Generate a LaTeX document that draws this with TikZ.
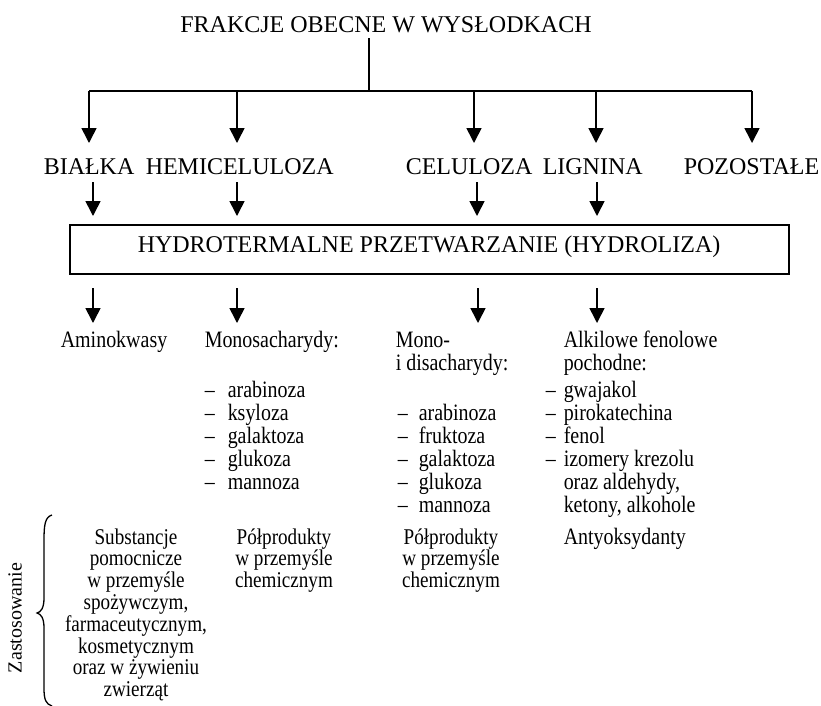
\documentclass[tikz,border=0pt]{standalone}
\usepackage{fontspec}
\setmainfont{Liberation Serif}
\newfontfamily\condfont[FakeStretch=0.85]{Liberation Serif}
\usetikzlibrary{arrows.meta}
\begin{document}
\begin{tikzpicture}[x=1pt,y=-1pt,line width=1.5pt,
  arr/.style={-{Triangle[length=15pt,width=15pt]},line width=1.6pt},
  big/.style={font=\fontsize{24}{28}\selectfont,inner sep=0pt},
  small/.style={font=\condfont\fontsize{23.5}{26}\selectfont,inner sep=0pt,text height=14pt,text depth=5pt},
  app/.style={font=\condfont\fontsize{22.5}{26}\selectfont,inner sep=0pt,text height=14pt,text depth=5pt,anchor=base},
  dsh/.style={small,anchor=base west}]
\useasboundingbox (0,0) rectangle (821,705);
% title and branching
\node[big,anchor=base] (title) at (386,32) {FRAKCJE OBECNE W WYSŁODKACH};
\coordinate (t0) at (369,38);
\coordinate (j0) at (369,91);
\coordinate (jl) at (89,91);
\coordinate (jr) at (752,91);
\draw (t0) -- (j0);
\draw (jl) -- (jr);
% labels
\node[big,anchor=base west] (bia) at (43,174) {BIAŁKA};
\node[big,anchor=base west] (hem) at (145,174) {HEMICELULOZA};
\node[big,anchor=base west] (cel) at (405,174) {CELULOZA};
\node[big,anchor=base west] (lig) at (542,174) {LIGNINA};
\node[big,anchor=base west] (poz) at (683,174) {POZOSTAŁE};
\foreach \n/\x in {a/89,b/237,c/474,d/596,e/752}{
  \coordinate (u\n) at (\x,91);
  \coordinate (v\n) at (\x,143);
  \draw[arr] (u\n) -- (v\n);
}
\foreach \n/\x in {a/93,b/237,c/477,d/597}{
  \coordinate (p\n) at (\x,182);
  \coordinate (q\n) at (\x,216);
  \draw[arr] (p\n) -- (q\n);
}
% box
\node[draw,line width=1.6pt,minimum width=719pt,minimum height=49pt,anchor=north west,inner sep=0pt] (box) at (69,224) {};
\node[big,anchor=base west] (boxt) at (137,252) {HYDROTERMALNE PRZETWARZANIE (HYDROLIZA)};
\foreach \n/\x in {a/93,b/237,c/478,d/597}{
  \coordinate (r\n) at (\x,288);
  \coordinate (s\n) at (\x,323);
  \draw[arr] (r\n) -- (s\n);
}
% products
\node[small,anchor=base west] (amino) at (60,347) {Aminokwasy};
\node[small,anchor=base west] (mono) at (204,347) {Monosacharydy:};
\foreach \t [count=\i] in {arabinoza,ksyloza,galaktoza,glukoza,mannoza}{
  \node[dsh] (ma\i) at (204,{397+23*(\i-1)}) {–};
  \node[dsh] (mt\i) at (227,{397+23*(\i-1)}) {\t};
}
\node[small,anchor=base west] (di1) at (395,347) {Mono-};
\node[small,anchor=base west] (di2) at (395,370) {i disacharydy:};
\foreach \t [count=\i] in {arabinoza,fruktoza,galaktoza,glukoza,mannoza}{
  \node[dsh] (da\i) at (397,{420+23*(\i-1)}) {–};
  \node[dsh] (dt\i) at (418,{420+23*(\i-1)}) {\t};
}
\node[small,anchor=base west] (al1) at (563,347) {Alkilowe fenolowe};
\node[small,anchor=base west] (al2) at (563,370) {pochodne:};
\foreach \t [count=\i] in {gwajakol,pirokatechina,fenol,izomery krezolu}{
  \node[dsh] (la\i) at (545,{397+23*(\i-1)}) {–};
  \node[dsh] (lt\i) at (563,{397+23*(\i-1)}) {\t};
}
\node[small,anchor=base west] (al3) at (563,489) {oraz aldehydy,};
\node[small,anchor=base west] (al4) at (563,512) {ketony, alkohole};
% applications
\foreach \t [count=\i] in {{Substancje},{pomocnicze},{w przemyśle},{spożywczym,},{farmaceutycznym,},{kosmetycznym},{oraz w żywieniu},{zwierząt}}{
  \node[app] (sub\i) at (136,{544+21.8*(\i-1)}) {\t};
}
\foreach \t [count=\i] in {{Półprodukty},{w przemyśle},{chemicznym}}{
  \node[app] (pa\i) at (284,{544+21.8*(\i-1)}) {\t};
  \node[app] (pb\i) at (451,{544+21.8*(\i-1)}) {\t};
}
\node[small,anchor=base west] (anty) at (563,544) {Antyoksydanty};
% brace
\draw[line width=1.3pt] (52,515) .. controls (45,517) and (44,525) .. (44,540) -- (44,598) .. controls (44,608) and (41,612) .. (37,613) .. controls (41,614) and (44,618) .. (44,628) -- (44,688) .. controls (44,700) and (46,704) .. (52,706);
\node[font=\fontsize{20}{23}\selectfont,inner sep=0pt,rotate=90] (zast) at (15,618) {Zastosowanie};
\end{tikzpicture}
\end{document}
